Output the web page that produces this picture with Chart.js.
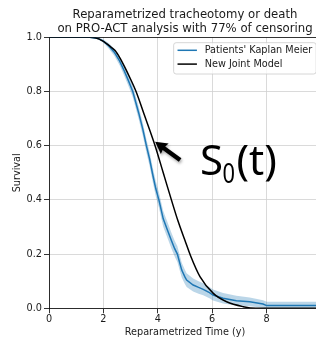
<!DOCTYPE html>
<html>
<head>
<meta charset="utf-8">
<script src="https://cdn.jsdelivr.net/npm/chart.js@4.4.0/dist/chart.umd.min.js"></script>
<style>
  html, body { margin: 0; padding: 0; overflow: hidden; background: #fff; }
  #wrap { width: 330px; height: 340px; }
</style>
</head>
<body>
<div id="wrap"><canvas id="c"></canvas></div>
<script>
// Kaplan Meier des patients
const kmTimes = [0, 1.5, 1.8, 2.0, 2.2, 2.4, 2.6, 2.75, 2.92, 3.08, 3.3, 3.45, 3.58, 3.7, 3.82, 3.93, 4.04, 4.2, 4.35, 4.5, 4.62, 4.72, 4.8, 4.88, 5.0, 5.06, 5.3, 5.5, 5.67, 5.9, 6.03, 6.4, 6.89, 7.38, 7.87, 8.0, 10];
const kmSurv  = [1, 1, 0.996, 0.986, 0.968, 0.945, 0.912, 0.88, 0.84, 0.8, 0.72, 0.66, 0.6, 0.55, 0.49, 0.44, 0.4, 0.33, 0.29, 0.25, 0.22, 0.2, 0.17, 0.141, 0.115, 0.104, 0.086, 0.077, 0.07, 0.058, 0.049, 0.037, 0.028, 0.024, 0.016, 0.01, 0.01];
const kmUpper = [1, 1, 0.999, 0.992, 0.978, 0.958, 0.928, 0.898, 0.86, 0.821, 0.743, 0.684, 0.625, 0.576, 0.517, 0.468, 0.428, 0.359, 0.319, 0.279, 0.249, 0.229, 0.198, 0.168, 0.141, 0.129, 0.11, 0.1, 0.092, 0.079, 0.069, 0.056, 0.046, 0.04, 0.03, 0.024, 0.024];
const kmLower = [1, 1, 0.993, 0.98, 0.958, 0.932, 0.896, 0.862, 0.82, 0.779, 0.697, 0.636, 0.575, 0.524, 0.463, 0.412, 0.372, 0.301, 0.261, 0.221, 0.191, 0.171, 0.142, 0.114, 0.089, 0.079, 0.062, 0.054, 0.048, 0.037, 0.029, 0.018, 0.01, 0.008, 0.002, 0, 0];

// nouveau modèle joint
const jmTimes = [0, 1.5, 1.7, 2.0, 2.2, 2.43, 2.6, 2.79, 3.0, 3.2, 3.5, 3.9, 4.2, 4.5, 4.75, 5.0, 5.2, 5.55, 6.04, 6.53, 7.14, 7.6, 10];
const jmSurv  = [1, 1, 0.998, 0.985, 0.97, 0.951, 0.925, 0.889, 0.845, 0.8, 0.715, 0.6, 0.5, 0.4, 0.32, 0.25, 0.195, 0.117, 0.055, 0.024, 0.006, 0, 0];

const seriesLabels = ["Patients' Kaplan Meier", 'New Joint Model'];
const titleLines = ['Reparametrized tracheotomy or death', 'on PRO-ACT analysis with 77% of censoring'];
const xTicks = [0, 2, 4, 6, 8];
const yTicks = [0, 0.2, 0.4, 0.6, 0.8, 1.0];

const toPts = (ts, vs) => ts.map((t, i) => ({ x: t, y: vs[i] }));

const BLUE = '#1f77b4';
const FONT = '"DejaVu Sans", sans-serif';
const TXT = '#1a1a1a';

// titre, légende et annotation S0(t)
const extras = {
  id: 'extras',
  afterDraw(chart) {
    const { ctx, chartArea: a, scales: { x, y } } = chart;
    ctx.save();
    ctx.fillStyle = TXT;
    ctx.textAlign = 'center';
    ctx.textBaseline = 'alphabetic';
    ctx.font = '11.7px ' + FONT;
    const cx = (a.left + a.right) / 2;
    ctx.fillText(titleLines[0], cx, a.top - 19.8);
    ctx.fillText(titleLines[1], cx, a.top - 5);

    // légende
    ctx.font = '9.7px ' + FONT;
    const em = 9.7;
    const tw = Math.max(...seriesLabels.map(s => ctx.measureText(s).width));
    const bw = 0.4 * em + 2 * em + 0.8 * em + tw + 0.4 * em;
    const bx = a.right - 0.5 * em - bw;
    const by = a.top + 5.4;
    const bh = 31.3;
    ctx.beginPath();
    ctx.roundRect(bx, by, bw, bh, 2.5);
    ctx.fillStyle = 'rgba(255,255,255,0.8)';
    ctx.fill();
    ctx.strokeStyle = '#cccccc';
    ctx.lineWidth = 0.8;
    ctx.stroke();
    const colors = [BLUE, '#000'];
    ctx.textAlign = 'left';
    ctx.textBaseline = 'middle';
    seriesLabels.forEach((s, i) => {
      const ry = by + 7.6 + i * 13.8;
      ctx.strokeStyle = colors[i];
      ctx.lineWidth = 1.5;
      ctx.beginPath();
      ctx.moveTo(bx + 0.4 * em, ry);
      ctx.lineTo(bx + 2.4 * em, ry);
      ctx.stroke();
      ctx.fillStyle = TXT;
      ctx.fillText(s, bx + 3.2 * em, ry + 0.5);
    });

    // flèche
    const tipX = x.getPixelForValue(3.9), tipY = y.getPixelForValue(0.615);
    const tailX = x.getPixelForValue(4.82), tailY = y.getPixelForValue(0.547);
    const ang = Math.atan2(tipY - tailY, tipX - tailX);
    ctx.save();
    ctx.translate(tipX, tipY);
    ctx.rotate(ang);
    const len = Math.hypot(tipX - tailX, tipY - tailY);
    ctx.shadowColor = 'rgba(0,0,0,0.35)';
    ctx.shadowBlur = 3;
    ctx.shadowOffsetX = 1;
    ctx.shadowOffsetY = 2;
    ctx.fillStyle = '#000';
    ctx.beginPath();
    ctx.moveTo(0, 0);
    ctx.lineTo(-12, -6.5);
    ctx.lineTo(-11, -2.2);
    ctx.lineTo(-len, -2.2);
    ctx.lineTo(-len, 2.2);
    ctx.lineTo(-11, 2.2);
    ctx.lineTo(-12, 6.5);
    ctx.closePath();
    ctx.fill();
    ctx.restore();

    // S0(t)
    const lx = x.getPixelForValue(5.55), ly = y.getPixelForValue(0.492);
    ctx.fillStyle = '#000';
    ctx.textBaseline = 'alphabetic';
    ctx.textAlign = 'left';
    ctx.font = '42px "Noto Sans", sans-serif';
    ctx.fillText('S', lx, ly);
    const sw = ctx.measureText('S').width;
    ctx.save();
    ctx.translate(lx + sw - 0.5, ly + 8.3);
    ctx.scale(0.78, 1);
    ctx.font = '28px "Noto Sans", sans-serif';
    ctx.fillText('0', 0, 0);
    const zw = ctx.measureText('0').width * 0.78;
    ctx.restore();
    ctx.font = '42px "Noto Sans", sans-serif';
    ctx.fillText('(t)', lx + sw + zw + 1, ly);
    ctx.restore();
  }
};

new Chart(document.getElementById('c'), {
  type: 'line',
  data: {
    datasets: [
      {
        label: seriesLabels[1],
        data: toPts(jmTimes, jmSurv),
        borderColor: '#000',
        borderWidth: 1.5,
        pointRadius: 0,
        cubicInterpolationMode: 'monotone',
        fill: false
      },
      {
        label: seriesLabels[0],
        data: toPts(kmTimes, kmSurv),
        borderColor: BLUE,
        borderWidth: 1.5,
        pointRadius: 0,
        tension: 0,
        fill: false
      },
      {
        label: 'upper',
        data: toPts(kmTimes, kmUpper),
        borderWidth: 0,
        borderColor: 'rgba(0,0,0,0)',
        backgroundColor: 'rgba(31,119,180,0.3)',
        pointRadius: 0,
        fill: '+1'
      },
      {
        label: 'lower',
        data: toPts(kmTimes, kmLower),
        borderWidth: 0,
        borderColor: 'rgba(0,0,0,0)',
        pointRadius: 0,
        fill: false
      }
    ]
  },
  options: {
    responsive: true,
    maintainAspectRatio: false,
    animation: false,
    events: [],
    layout: { padding: { left: 0, right: 9, top: 37.3, bottom: 0 } },
    plugins: {
      legend: { display: false },
      title: { display: false },
      tooltip: { enabled: false }
    },
    scales: {
      x: {
        type: 'linear',
        min: 0,
        max: 10,
        afterBuildTicks: s => { s.ticks = xTicks.map(v => ({ value: v })); },
        afterFit: s => { s.height = 31.7; },
        ticks: { color: TXT, padding: 0, font: { family: 'DejaVu Sans', size: 9.7 } },
        grid: { color: '#d0d0d0', lineWidth: 0.8, tickLength: 5, tickColor: '#000', tickWidth: 0.8 },
        border: { color: '#000', width: 0.8 },
        title: { display: true, text: 'Reparametrized Time (y)', color: TXT, padding: { top: 0, bottom: 1.5 }, font: { family: 'DejaVu Sans', size: 9.7 } }
      },
      y: {
        min: 0,
        max: 1,
        afterBuildTicks: s => { s.ticks = yTicks.map(v => ({ value: v })); },
        afterFit: s => { s.width = 49; },
        ticks: { color: TXT, padding: 2, callback: v => v.toFixed(1), font: { family: 'DejaVu Sans', size: 9.7 } },
        grid: {
          color: c => (c.tick && c.tick.value === 1 ? '#000' : '#d0d0d0'),
          lineWidth: 0.8, tickLength: 5, tickColor: '#000', tickWidth: 0.8
        },
        border: { color: '#000', width: 0.8 },
        title: { display: true, text: 'Survival', color: TXT, padding: { top: 12, bottom: 0 }, font: { family: 'DejaVu Sans', size: 9.7 } }
      }
    }
  },
  plugins: [extras]
});
</script>
</body>
</html>
